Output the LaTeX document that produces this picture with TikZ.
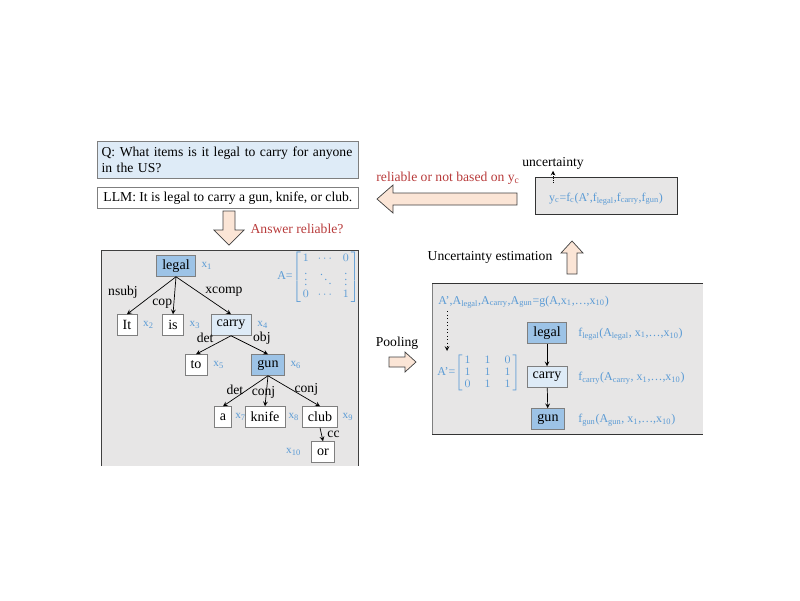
\documentclass[tikz,border=0pt]{standalone}
\usepackage{amsmath}
\usepackage{amssymb}
\usepackage{xcolor}
\usepackage{fontspec}
\setmainfont{Liberation Serif}
\usetikzlibrary{positioning}

\definecolor{nodeblue}{HTML}{9DC3E6}
\definecolor{paleblue}{HTML}{DEEBF7}
\definecolor{panelgray}{HTML}{E7E6E6}
\definecolor{txtblue}{HTML}{5B9BD5}
\definecolor{peach}{HTML}{FBE5D6}
\definecolor{redtxt}{HTML}{B83B3B}
\definecolor{edgegray}{HTML}{7F7F7F}

\newcommand{\low}[1]{\textsubscript{#1}}
\newcommand{\txt}{\fontsize{9.7}{10.8}\selectfont}
\newcommand{\tightmat}{\renewcommand{\arraystretch}{0.85}\setlength{\arraycolsep}{3.2pt}}

\begin{document}
\begin{tikzpicture}[>=stealth, x=0.025cm, y=-0.025cm, line width=0.5pt,
	word/.style={draw=edgegray, fill=white, inner xsep=4pt, inner ysep=0pt,
		minimum height=0.52cm, font=\fontsize{10}{12}\selectfont},
	hot/.style={word, fill=nodeblue},
	warm/.style={word, fill=paleblue},
	xlab/.style={text=txtblue, font=\fontsize{8}{9}\selectfont, inner sep=1pt},
	rel/.style={font=\txt, inner sep=1pt},
	formula/.style={text=txtblue, font=\fontsize{8.5}{10}\selectfont\tightmat, inner sep=0pt},
	fat/.style={draw=black!75, fill=peach, line join=miter}]

	\useasboundingbox (0,0) rectangle (800,600);

	% question and answer
	\node [draw=edgegray, fill=paleblue, anchor=north west, text width=6.31cm,
		inner sep=3pt, minimum height=0.925cm, align=left, font=\txt]
		(q) at (97,141) {Q: What items is it legal to carry for anyone\\in the US?};
	\node [draw=edgegray, fill=white, anchor=north west, minimum width=6.525cm,
		inner sep=0pt, minimum height=0.525cm, font=\txt]
		(llm) at (97,187) {LLM: It is legal to carry a gun, knife, or club.};
	\draw [fat] (223,211) -- (235,211) -- (235,230) -- (244,230) -- (229,245)
		-- (214,230) -- (223,230) -- cycle;
	\node [rel, text=redtxt] (ask) at (297,229) {Answer reliable?};

	% dependency tree
	\fill [panelgray] (101,250) rectangle (358,466);
	\draw [black!75] (101,466) -- (101,250) -- (358,250) -- (358,466);

	\node [hot] (legal) at (176,266) {legal};
	\node [word] (it) at (127,325) {It};
	\node [word] (is) at (173,325) {is};
	\node [warm] (carry) at (231,325) {carry};
	\node [word] (to) at (196,365) {to};
	\node [hot] (gun) at (268,365) {gun};
	\node [word] (a) at (223,417) {a};
	\node [word] (knife) at (265,417) {knife};
	\node [word] (club) at (320,417) {club};
	\node [word] (or) at (323,452) {or};

	\node [xlab, right=3pt of legal] {x\low{1}};
	\node [xlab, right=3pt of it] {x\low{2}};
	\node [xlab, right=3pt of is] {x\low{3}};
	\node [xlab, right=3pt of carry] {x\low{4}};
	\node [xlab, right=3pt of to] {x\low{5}};
	\node [xlab, right=3pt of gun] {x\low{6}};
	\node [xlab, right=1pt of a] {x\low{7}};
	\node [xlab, right=1pt of knife] {x\low{8}};
	\node [xlab, right=2pt of club] {x\low{9}};
	\node [xlab, left=6pt of or] {x\low{10}};

	\node [formula, anchor=west] (amat) at (277,277)
		{A=$\left[\begin{array}{@{\,}ccc@{\,}}1&\cdots&0\\ \vdots&\ddots&\vdots\\ 0&\cdots&1\end{array}\right]$};

	\draw [->] (legal.south) -- node [rel, pos=0.4, left=12pt] {nsubj} (it.north);
	\draw [->] (legal.south) -- node [rel, pos=0.72, left] {cop} (is.north);
	\draw [->] (legal.south) -- node [rel, pos=0.4, right=4pt] {xcomp} (carry.north);
	\draw [->] (carry.south) -- node [rel, pos=0.45, above left] {det} (to.north);
	\draw [->] (carry.south) -- node [rel, pos=0.55, above right] {obj} (gun.north);
	\draw [->] (gun.south) -- node [rel, pos=0.45, left=2pt] {det} (a.north);
	\draw [->] (gun.south) -- node [rel, pos=0.55, xshift=-2pt] {conj} (knife.north);
	\draw [->] (gun.south) -- node [rel, pos=0.45, right=1pt] {conj} (club.north);
	\draw [->] (club.south) -- node [rel, pos=0.5, right=3pt] {cc} (or.north);

	% pooling
	\node [rel] (pool) at (397,343) {Pooling};
	\draw [fat] (389,357) -- (405,357) -- (405,352) -- (416,362) -- (405,372)
		-- (405,367) -- (389,367) -- cycle;

	\fill [panelgray] (432,283) rectangle (703,434);
	\draw [edgegray] (432,283) -- (432,434);
	\draw [black!80] (703,283) -- (432,283);
	\draw [black!80] (432,434) -- (703,434);

	\node [formula, anchor=west] (gform) at (438,302)
		{A',A\low{legal},A\low{carry},A\low{gun}=g(A,x\low{1},\dots,x\low{10})};
	\coordinate (dtop) at (447,311);
	\coordinate (dbot) at (447,351);
	\draw [->, dotted] (dtop) -- (dbot);
	\node [formula, anchor=west] (apmat) at (437,373)
		{A'=$\setlength{\arraycolsep}{5pt}\left[\begin{array}{@{\,}ccc@{\,}}1&1&0\\ 1&1&1\\ 0&1&1\end{array}\right]$};

	\node [hot] (rlegal) at (547,333) {legal};
	\node [warm] (rcarry) at (547,377) {carry};
	\node [hot] (rgun) at (548,419) {gun};
	\draw [->] (rlegal) -- (rcarry);
	\draw [->] (rcarry) -- (rgun);

	\node [formula, anchor=west] (flegal) at (578,334)
		{f\low{legal}(A\low{legal}, x\low{1},\dots,x\low{10})};
	\node [formula, anchor=west] (fcarry) at (578,378)
		{f\low{carry}(A\low{carry}, x\low{1},\dots,x\low{10})};
	\node [formula, anchor=west] (fgun) at (578,420)
		{f\low{gun}(A\low{gun}, x\low{1},\dots,x\low{10})};

	% uncertainty
	\draw [fat] (567,274) -- (567,253) -- (561,253) -- (572,241) -- (583,253)
		-- (577,253) -- (577,274) -- cycle;
	\node [rel] (est) at (490,257) {Uncertainty estimation};

	\node [draw=black!80, fill=panelgray, minimum width=3.55cm, minimum height=0.925cm,
		inner sep=0pt] (yc) at (606,196) {};
	\node [formula] (ycform) at (606,199)
		{y\low{c}=f\low{c}(A',f\low{legal},f\low{carry},f\low{gun})};
	\node [rel] (unc) at (553,163) {uncertainty};
	\coordinate (uncfoot) at (553,183);
	\draw [->, densely dotted] (uncfoot) -- (unc.south);

	\draw [fat] (517,193) -- (393,193) -- (393,185) -- (377,199) -- (393,213)
		-- (393,205) -- (517,205) -- cycle;
	\node [rel, text=redtxt] (verdict) at (448,178) {reliable or not based on y\low{c}};
\end{tikzpicture}
\end{document}
